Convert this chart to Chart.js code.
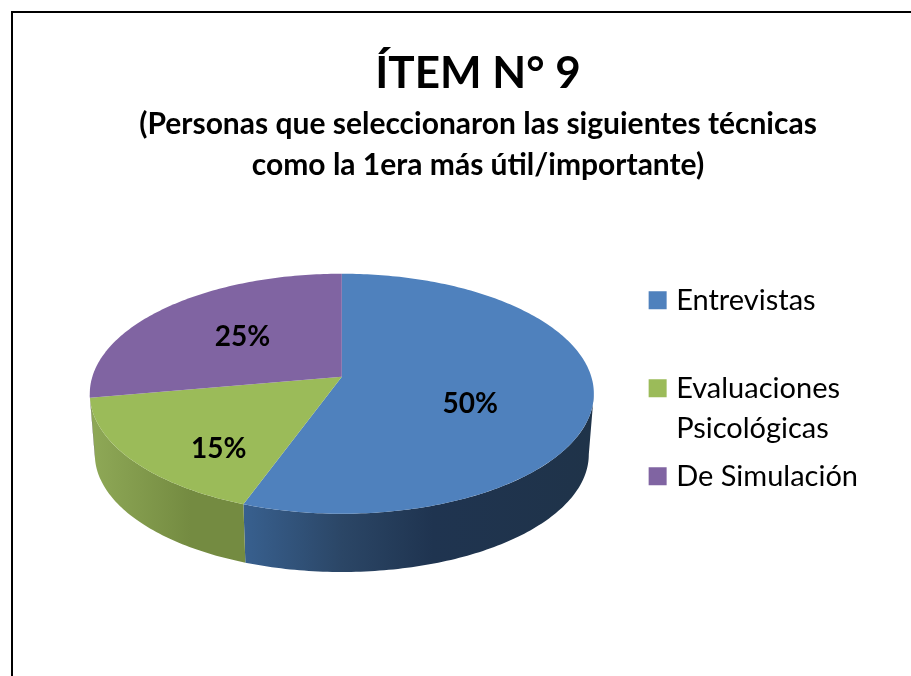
<!DOCTYPE html>
<html>
<head>
<meta charset="utf-8">
<script src="https://cdn.jsdelivr.net/npm/chart.js@4"></script>
<style>
    html, body { margin: 0; padding: 0; background: #fff; overflow: hidden; width: 911px; height: 676px; }
    #frame { position: absolute; left: 11px; top: 11px; width: 900px; height: 665px; border-left: 2px solid #000; border-top: 2px solid #000; }
    #chart { position: absolute; left: 0; top: 0; }
</style>
</head>
<body>
<div id="frame"></div>
<canvas id="chart" width="956" height="676"></canvas>
<script>
const categories = ['Entrevistas', ['Evaluaciones', 'Psicológicas'], 'De Simulación'];
const values = [50, 15, 25];
const topColors = ['#4F81BD', '#9BBB59', '#8064A2'];
const titleText = 'ÍTEM N° 9';
const subtitleLines = ['(Personas que seleccionaron las siguientes técnicas', 'como la 1era más útil/importante)'];

// the side wall gets a horizontal gradient, one list of stops per slice
const wallStops = [
    [[0.305, '#38608F'], [0.5, '#2B4666'], [0.68, '#1F3450'], [1, '#1F3349']],
    [[0, '#8FA957'], [0.2, '#748B41'], [1, '#748B41']],
    [[0, '#6A5388'], [1, '#6A5388']]
];

const FONT = 'Lato, "Open Sans", sans-serif';
const PERSPECTIVE = 0.1417;
const FLAT_X = 0.99;
const FLAT_Y = 0.4667;
const WALL_SCALE = 0.98;
const WALL_DROP = 61;
const SHIFT_X = -25;
const SHIFT_Y = -37;

// projects a point of the pie disc (radius 0..1, chart angle) onto the tilted plane
const project = (arc, radius, angle, scale = 1, drop = 0) => {
    const u = radius * Math.cos(angle);
    const v = radius * Math.sin(angle);
    const w = 1 - PERSPECTIVE * v;
    return {
        x: arc.x + SHIFT_X + arc.outerRadius * FLAT_X * scale * u / w,
        y: arc.y + SHIFT_Y + drop + arc.outerRadius * FLAT_Y * scale * v / w
    };
};

const tracePoints = (ctx, points) => {
    points.forEach(p => ctx.lineTo(p.x, p.y));
};

const sampleAngles = (from, to) => {
    const steps = Math.max(2, Math.ceil((to - from) * 60));
    return Array.from({ length: steps + 1 }, (_, i) => from + (to - from) * i / steps);
};

const pie3d = {
    id: 'pie3d',
    beforeDatasetsDraw(chart, args, opts) {
        const ctx = chart.ctx;
        const arcs = chart.getDatasetMeta(0).data;
        const frontEnd = Math.PI - Math.asin(PERSPECTIVE);
        const frontStart = Math.asin(PERSPECTIVE);

        ctx.save();
        arcs.forEach((arc, i) => {
            const from = Math.max(arc.startAngle, frontStart);
            const to = Math.min(arc.endAngle, frontEnd);
            if (to <= from) return;
            const angles = sampleAngles(from, to);
            const left = arc.x + SHIFT_X - arc.outerRadius;
            const right = arc.x + SHIFT_X + arc.outerRadius;
            const grad = ctx.createLinearGradient(left, 0, right, 0);
            wallStops[i].forEach(([stop, color]) => grad.addColorStop(stop, color));
            ctx.beginPath();
            tracePoints(ctx, angles.map(a => project(arc, 1, a)));
            tracePoints(ctx, angles.slice().reverse().map(a => project(arc, 1, a, WALL_SCALE, WALL_DROP)));
            ctx.closePath();
            ctx.fillStyle = grad;
            ctx.fill();
        });

        arcs.forEach((arc, i) => {
            ctx.beginPath();
            tracePoints(ctx, [project(arc, 0, 0)]);
            tracePoints(ctx, sampleAngles(arc.startAngle, arc.endAngle).map(a => project(arc, 1, a)));
            ctx.closePath();
            ctx.fillStyle = topColors[i];
            ctx.fill();
        });

        ctx.fillStyle = '#000';
        ctx.font = 'bold ' + opts.labelSize + 'px ' + FONT;
        ctx.textAlign = 'center';
        ctx.textBaseline = 'middle';
        arcs.forEach((arc, i) => {
            const mid = (arc.startAngle + arc.endAngle) / 2;
            const p = project(arc, 0.5, mid);
            const shift = opts.labelShift[i];
            ctx.fillText(values[i] + '%', p.x + shift[0], p.y + shift[1]);
        });
        ctx.restore();
        return false;
    }
};

new Chart(document.getElementById('chart'), {
    type: 'pie',
    data: {
        labels: categories,
        datasets: [{ data: values, backgroundColor: topColors, borderWidth: 0, radius: 252 }]
    },
    plugins: [pie3d],
    options: {
        responsive: false,
        animation: false,
        events: [],
        layout: { padding: { left: 88, right: 88, bottom: 64 } },
        plugins: {
            tooltip: { enabled: false },
            title: {
                display: true,
                text: titleText,
                color: '#000',
                font: { family: FONT, size: 44, weight: 'bold', lineHeight: 1.1 },
                padding: { top: 50, bottom: 5 }
            },
            subtitle: {
                display: true,
                text: subtitleLines,
                color: '#000',
                font: { family: FONT, size: 30, weight: 'bold', lineHeight: 41 / 30 },
                padding: { top: 0, bottom: 30 }
            },
            legend: {
                position: 'right',
                fullSize: false,
                labels: {
                    color: '#000',
                    usePointStyle: true,
                    // narrow layout box keeps the swatch close to the text, the rect itself stays 18px
                    boxWidth: 8,
                    boxHeight: 18,
                    padding: 8,
                    font: { family: FONT, size: 29, lineHeight: 40 / 29 },
                    generateLabels(chart) {
                        // first entry keeps an empty second line, that gives the even gaps of the original
                        const items = Chart.overrides.pie.plugins.legend.labels.generateLabels(chart);
                        items.forEach((item, i) => {
                            item.text = Array.isArray(item.text) ? item.text : [item.text, ''];
                            item.pointStyle = 'rect';
                            item.strokeStyle = topColors[i];
                            item.lineWidth = 0;
                        });
                        return items;
                    }
                }
            },
            pie3d: {
                labelSize: 28,
                labelShift: [[4, 17], [-23, 33], [-8, -4]]
            }
        }
    }
});
</script>
</body>
</html>
